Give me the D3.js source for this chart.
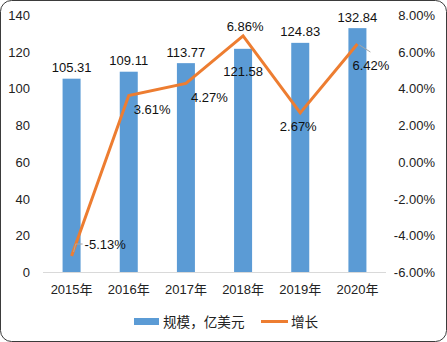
<!DOCTYPE html>
<html>
<head>
<meta charset="utf-8">
<script src="https://cdn.jsdelivr.net/npm/d3@7"></script>
<style>
  html, body { margin: 0; padding: 0; background: #fff; }
  svg { display: block; }
  text { font-family: "Liberation Sans", "Noto Sans CJK SC", sans-serif; }
</style>
</head>
<body>
<div id="chart"></div>
<script>
// ---- data ----
const years = ["2015年", "2016年", "2017年", "2018年", "2019年", "2020年"];
const scaleValues = [105.31, 109.11, 113.77, 121.58, 124.83, 132.84];
const growthValues = [-5.13, 3.61, 4.27, 6.86, 2.67, 6.42];
const leftTicks = [0, 20, 40, 60, 80, 100, 120, 140];
const rightTicks = [-6, -4, -2, 0, 2, 4, 6, 8];
const legendLabels = ["规模，亿美元", "增长"];

// label placement (layout only)
const barLabelPlace = ["above", "above", "above", "inside", "above", "above"];
const lineLabelPlace = ["rightUp", "rightDown", "rightDown", "above", "below", "farRightDown"];

const W = 447, H = 342;
const margin = { left: 43, right: 61, top: 15, bottom: 70 };
const plotR = W - margin.right, plotB = H - margin.bottom;

const svg = d3.select("#chart").append("svg").attr("width", W).attr("height", H);

// border
svg.append("rect").attr("x", 0.5).attr("y", 0.5).attr("width", W - 1).attr("height", H - 1)
  .attr("rx", 11).attr("ry", 11).attr("fill", "#fff").attr("stroke", "#3b3b3b").attr("stroke-width", 1);

const x = d3.scaleBand().domain(years).range([margin.left, plotR]).padding(0);
const yL = d3.scaleLinear().domain([0, 140]).range([plotB, margin.top]);
const yR = d3.scaleLinear().domain([-6, 8]).range([plotB, margin.top]);
const barW = x.bandwidth() * 0.315;
const cx = d => x(d) + x.bandwidth() / 2;

// axes
const axisL = d3.axisLeft(yL).tickValues(leftTicks).tickSize(0).tickPadding(13);
const gL = svg.append("g").attr("transform", `translate(${margin.left},0)`).call(axisL);
gL.select(".domain").remove();
gL.selectAll("text").attr("font-size", 13).attr("fill", "#222").attr("dy", "0.35em");

const axisR = d3.axisRight(yR).tickValues(rightTicks).tickSize(0)
  .tickFormat(d => d.toFixed(2) + "%");
const gR = svg.append("g").attr("transform", `translate(435,0)`).call(axisR);
gR.select(".domain").remove();
gR.selectAll("text").attr("font-size", 13).attr("fill", "#222").attr("text-anchor", "end").attr("x", 0).attr("dy", "0.35em");

const axisB = d3.axisBottom(x).tickSize(0).tickPadding(13);
const gB = svg.append("g").attr("transform", `translate(0,${plotB})`).call(axisB);
gB.select(".domain").remove();
gB.selectAll("text").attr("font-size", 13).attr("fill", "#222");

// bars
svg.append("g").selectAll("rect").data(years).join("rect")
  .attr("x", (d) => cx(d) - barW / 2)
  .attr("y", (d, i) => yL(scaleValues[i]))
  .attr("width", barW)
  .attr("height", (d, i) => plotB - yL(scaleValues[i]))
  .attr("fill", "#5B9BD5");

// baseline
svg.append("line").attr("x1", margin.left).attr("x2", plotR).attr("y1", plotB + 0.5).attr("y2", plotB + 0.5)
  .attr("stroke", "#d9d9d9").attr("stroke-width", 1);

// bar labels
svg.append("g").selectAll("text").data(years).join("text")
  .attr("x", d => cx(d))
  .attr("y", (d, i) => barLabelPlace[i] === "inside" ? yL(scaleValues[i]) + 23 : yL(scaleValues[i]) - 11)
  .attr("dy", "0.35em")
  .attr("text-anchor", "middle").attr("font-size", 13).attr("fill", "#111")
  .text((d, i) => scaleValues[i].toFixed(2));

// line
const line = d3.line().x(d => cx(d[0])).y(d => yR(d[1]));
svg.append("path").datum(years.map((d, i) => [d, growthValues[i]]))
  .attr("d", line).attr("fill", "none").attr("stroke", "#ED7D31").attr("stroke-width", 3)
  .attr("stroke-linejoin", "miter").attr("stroke-linecap", "butt");

// leader lines
const p0 = [cx(years[0]), yR(growthValues[0])];
svg.append("polyline").attr("points", `${p0[0] + 2},${p0[1] - 4} ${p0[0] + 4},${p0[1] - 12} ${p0[0] + 11},${p0[1] - 12}`)
  .attr("fill", "none").attr("stroke", "#a6a6a6").attr("stroke-width", 1);
const p5 = [cx(years[5]), yR(growthValues[5])];
svg.append("line").attr("x1", p5[0] + 2).attr("y1", p5[1] + 1).attr("x2", p5[0] + 13).attr("y2", p5[1] + 8)
  .attr("stroke", "#a6a6a6").attr("stroke-width", 1);

// line labels
const off = {
  rightUp: [13, -12, "start"],
  rightDown: [5, 14, "start"],
  farRightDown: [-5, 21, "start"],
  above: [2, -9, "middle"],
  below: [-2, 14, "middle"]
};
svg.append("g").selectAll("text").data(years).join("text")
  .attr("x", (d, i) => cx(d) + off[lineLabelPlace[i]][0])
  .attr("y", (d, i) => yR(growthValues[i]) + off[lineLabelPlace[i]][1])
  .attr("dy", "0.35em")
  .attr("text-anchor", (d, i) => off[lineLabelPlace[i]][2])
  .attr("font-size", 13).attr("fill", "#111")
  .text((d, i) => growthValues[i].toFixed(2) + "%");

// legend
const lg = svg.append("g");
lg.append("rect").attr("x", 134).attr("y", 318).attr("width", 25).attr("height", 7).attr("fill", "#5B9BD5");
lg.append("text").attr("x", 163).attr("y", 322).attr("dy", "0.35em").attr("font-size", 13.6)
  .attr("font-family", "'Noto Sans CJK SC', sans-serif").attr("fill", "#222").text(legendLabels[0]);
lg.append("line").attr("x1", 261).attr("x2", 288).attr("y1", 321.5).attr("y2", 321.5)
  .attr("stroke", "#ED7D31").attr("stroke-width", 3);
lg.append("text").attr("x", 291).attr("y", 322).attr("dy", "0.35em").attr("font-size", 13.6)
  .attr("font-family", "'Noto Sans CJK SC', sans-serif").attr("fill", "#222").text(legendLabels[1]);
</script>
</body>
</html>
